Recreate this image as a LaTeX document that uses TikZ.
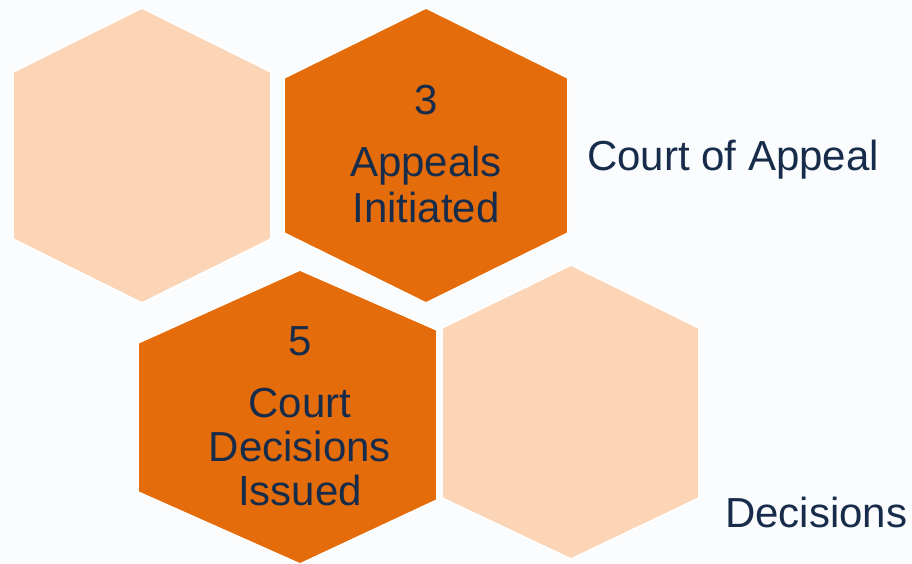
\documentclass[tikz,border=0pt]{standalone}
\usepackage{fontspec}
\setmainfont{Liberation Sans}
\definecolor{bgc}{HTML}{FAFCFE}
\definecolor{darkhex}{HTML}{E46C0A}
\definecolor{lighthex}{HTML}{FBD5B5}
\definecolor{navy}{HTML}{172C4A}
\tikzset{
  hexshape/.style={draw=white, line width=1.6pt, line join=miter},
  darkcell/.style={hexshape, fill=darkhex},
  lightcell/.style={hexshape, fill=lighthex},
  lbl/.style={anchor=base, inner sep=0pt, text=navy, font=\fontsize{42}{45}\selectfont}
}
\begin{document}
\begin{tikzpicture}[x=1pt,y=-1pt]
\fill[bgc] (0,0) rectangle (912,564);
\useasboundingbox (0,0) rectangle (912,564);
% hexagon 1 (light, top left)
\path[lightcell] (142,8) -- (271,72) -- (271,239) -- (142,303) -- (13,239) -- (13,72) -- cycle;
% hexagon 2 (dark, top middle)
\path[darkcell] (426,8) -- (568,78) -- (568,233) -- (426,303) -- (284,233) -- (284,78) -- cycle;
% hexagon 3 (dark, bottom left)
\path[darkcell] (300,270) -- (437,330) -- (437,500) -- (300,564) -- (138,492) -- (138,343) -- cycle;
% hexagon 4 (light, bottom right)
\path[lightcell] (571,265) -- (699,328) -- (699,498) -- (571,559) -- (442,498) -- (442,328) -- cycle;
% texts in hexagon 2
\node[lbl] (n3) at (426,115) {3};
\node[lbl] (a1) at (426,177) {Appeals};
\node[lbl] (a2) at (426,222) {Initiated};
% texts in hexagon 3
\node[lbl] (n5) at (300,355) {5};
\node[lbl] (c1) at (300,417) {Court};
\node[lbl] (c2) at (300,461) {Decisions};
\node[lbl] (c3) at (300,505) {Issued};
% side labels
\node[lbl, anchor=base west] (coa) at (587,171) {Court of Appeal};
\node[lbl, anchor=base west] (dec) at (725,527) {Decisions};
\end{tikzpicture}
\end{document}
